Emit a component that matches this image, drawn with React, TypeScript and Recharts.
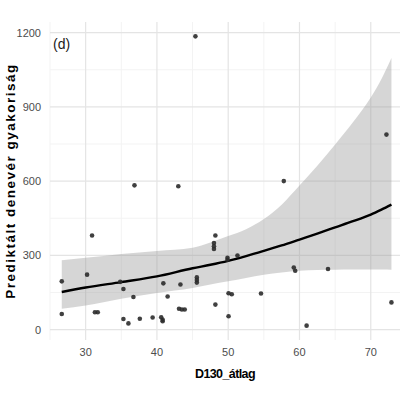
import React from 'react';
import { ComposedChart, Area, Line, Scatter, XAxis, YAxis, CartesianGrid, Label } from 'recharts';

const xTicks = [30, 40, 50, 60, 70];
const yTicks = [0, 300, 600, 900, 1200];
const xMinor = [25, 35, 45, 55, 65];
const yMinor = [150, 450, 750, 1050];

// observed sites: D130 mean vs. bat activity
const obsX = [45.4, 36.85, 43.0, 57.8, 72.2, 30.9, 48.2, 48.0, 48.0, 48.0, 26.65, 30.2, 34.85, 35.3, 40.9, 43.3, 45.6, 45.6, 45.6, 36.7, 41.5, 48.2, 26.65, 31.3, 31.7, 43.1, 43.5, 43.9, 35.3, 36.0, 37.6, 39.4, 40.6, 40.8, 40.8, 49.9, 49.9, 51.3, 59.2, 59.4, 64.0, 50.05, 50.5, 54.6, 50.05, 61.0, 72.9];
const obsY = [1185, 583, 579, 600, 788, 380, 380, 350, 337, 326, 195, 222, 193, 164, 187, 182, 211, 200, 190, 132, 134, 101, 63, 70, 70, 84, 81, 81, 43, 25, 44, 49, 50, 40, 34, 290, 282, 299, 251, 238, 245, 147, 143, 146, 54, 16, 110];

// fitted curve with its confidence band
const fitX = [26.65, 30, 35, 40, 45, 47.5, 50, 52.5, 55, 57.5, 60, 62.5, 65, 67.5, 70, 71.5, 72.9];
const fitY = [152, 170, 192, 215, 248, 262, 278, 297, 318, 340, 364, 388, 413, 438, 465, 485, 505];
const fitLow = [84, 97, 125, 148, 168, 182, 195, 209, 222, 231, 238, 241, 242, 243, 243, 243, 242];
const fitHigh = [280, 290, 306, 318, 331, 352, 378, 406, 447, 505, 582, 662, 748, 838, 938, 1013, 1098];

const observed = obsX.map((x, i) => ({ x, y: obsY[i] }));
const smooth = fitX.map((x, i) => ({ x, fit: fitY[i], band: [fitLow[i], fitHigh[i]] }));

const font = "'Liberation Sans', Arial, sans-serif";
const tickStyle = { fill: '#4d4d4d', fontSize: 11, fontFamily: font };

const YTitle = (props: any) => {
  const { viewBox } = props;
  const cx = 10;
  const cy = viewBox.y + viewBox.height / 2;
  return (
    <text
      x={cx}
      y={cy}
      transform={`rotate(-90 ${cx} ${cy})`}
      textAnchor="middle"
      dominantBaseline="central"
      fontFamily={font}
      fontWeight="bold"
      fontSize={13.5}
      letterSpacing={1.5}
      fill="#000"
    >
      Prediktált denevér gyakoriság
    </text>
  );
};

const Dot = (props: any) => <circle cx={props.cx} cy={props.cy} r={2.3} fill="#2b2b2b" fillOpacity={0.9} />;

export default function App() {
  return (
    <div style={{ position: 'absolute', left: 0, top: 0, width: 400, height: 400, background: '#fff' }}>
      <ComposedChart width={400} height={400} data={smooth} margin={{ top: 22, right: 0, bottom: 0, left: 0 }}>
        <CartesianGrid horizontalValues={yMinor} verticalValues={xMinor} stroke="#f3f3f3" strokeWidth={1} />
        <CartesianGrid horizontalValues={yTicks} verticalValues={xTicks} stroke="#e4e4e4" strokeWidth={1.2} />
        <XAxis
          type="number"
          dataKey="x"
          domain={[25, 74.1]}
          ticks={xTicks}
          allowDataOverflow
          axisLine={false}
          tickLine={false}
          height={60}
          tick={tickStyle}
        >
          <Label
            value="D130_átlag"
            position="insideBottom"
            offset={22}
            style={{ fontFamily: font, fontWeight: 'bold', fontSize: 12.5, letterSpacing: -0.6, fill: '#000' }}
          />
        </XAxis>
        <YAxis
          type="number"
          domain={[-42, 1243]}
          ticks={yTicks}
          allowDataOverflow
          axisLine={false}
          tickLine={false}
          width={50}
          tickMargin={3}
          tick={tickStyle}
          label={<YTitle />}
        />
        <Area
          dataKey="band"
          type="monotone"
          stroke="none"
          fill="#999999"
          fillOpacity={0.4}
          isAnimationActive={false}
        />
        <Line dataKey="fit" type="monotone" stroke="#000" strokeWidth={2.4} dot={false} isAnimationActive={false} />
        <Scatter data={observed} dataKey="y" shape={<Dot />} isAnimationActive={false} />
      </ComposedChart>
      <div style={{ position: 'absolute', left: 53, top: 37, fontFamily: font, fontSize: 14, lineHeight: '1', color: '#1a1a1a' }}>
        (d)
      </div>
    </div>
  );
}
